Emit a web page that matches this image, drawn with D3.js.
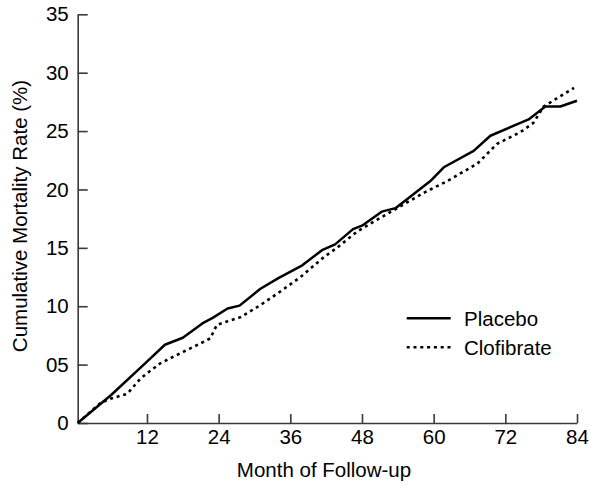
<!DOCTYPE html>
<html>
<head>
<meta charset="utf-8">
<script src="https://cdn.jsdelivr.net/npm/d3@7"></script>
<style>
  html, body { margin: 0; padding: 0; background: #fff; }
  svg text { font-family: "Liberation Sans", Arial, Helvetica, sans-serif; fill: #000; }
</style>
</head>
<body>
<svg id="chart" width="589" height="486"></svg>
<script>
// ---- data ----
const placeboMonths = [0.4, 6, 12, 15, 18, 21.5, 23, 25.5, 27.5, 31, 34, 38, 41.3, 43.5, 46.5, 48, 51.3, 53.6, 59.4, 61.7, 66.7, 69.5, 75.9, 78.7, 81.2, 84];
const placeboRates  = [0, 2.4, 5.25, 6.7, 7.3, 8.6, 9.0, 9.8, 10.05, 11.5, 12.4, 13.5, 14.8, 15.3, 16.6, 16.9, 18.1, 18.4, 20.7, 21.9, 23.3, 24.6, 26.0, 27.1, 27.1, 27.6];
const clofibrateMonths = [0.4, 4.2, 6, 8.7, 10.9, 12, 14.2, 16.5, 18.7, 20.9, 22.6, 23.7, 25.4, 27.6, 31, 34.3, 37.7, 41.6, 43.8, 47.2, 50.5, 53.9, 58.3, 62.2, 67.3, 70.6, 74.5, 76.7, 78.4, 83.5];
const clofibrateRates  = [0, 1.7, 2.1, 2.5, 3.8, 4.25, 5.1, 5.7, 6.25, 6.8, 7.25, 8.4, 8.7, 9.05, 10.1, 11.25, 12.5, 14.2, 15.0, 16.4, 17.4, 18.4, 19.7, 20.7, 22.2, 23.9, 24.9, 25.7, 27.1, 28.7];
const xTickValues = [12, 24, 36, 48, 60, 72, 84];
const yTickValues = [0, 5, 10, 15, 20, 25, 30, 35];
const yTickLabels = ["0", "05", "10", "15", "20", "25", "30", "35"];
const seriesNames = ["Placebo", "Clofibrate"];
const xTitle = "Month of Follow-up";
const yTitle = "Cumulative Mortality Rate (%)";

// ---- layout ----
const svg = d3.select("#chart");
const fs = "20.5px";
const x = d3.scaleLinear().domain([0.4, 84]).range([77.7, 577]);
const y = d3.scaleLinear().domain([0, 35]).range([423, 14.3]);
const axisColor = "#3a3a3a";

// y axis
const yAxis = d3.axisLeft(y)
  .tickValues(yTickValues)
  .tickFormat((d, i) => yTickLabels[i])
  .tickSizeInner(-10).tickSizeOuter(0).tickPadding(9);
const gy = svg.append("g").attr("transform", `translate(${x(0.4)},0)`).call(yAxis);
gy.select(".domain").attr("stroke", axisColor).attr("stroke-width", 1.6);
gy.selectAll(".tick line").attr("stroke", axisColor).attr("stroke-width", 1.6);
gy.selectAll(".tick text").attr("font-size", fs).attr("fill", "#000");

// x axis
const xAxis = d3.axisBottom(x)
  .tickValues(xTickValues)
  .tickSizeInner(-9).tickSizeOuter(0).tickPadding(6);
const gx = svg.append("g").attr("transform", `translate(0,${y(0)})`).call(xAxis);
gx.select(".domain").attr("stroke", axisColor).attr("stroke-width", 1.6);
gx.selectAll(".tick line").attr("stroke", axisColor).attr("stroke-width", 1.6);
gx.selectAll(".tick text").attr("font-size", fs).attr("fill", "#000");

svg.selectAll("g text").attr("font-family", '"Liberation Sans", Arial, sans-serif');

// titles
svg.append("text")
  .attr("x", 324).attr("y", 477)
  .attr("text-anchor", "middle").attr("font-size", fs)
  .text(xTitle);
svg.append("text")
  .attr("transform", "translate(27,216) rotate(-90)")
  .attr("text-anchor", "middle").attr("font-size", fs)
  .text(yTitle);

// lines
const line = d3.line().x(d => x(d[0])).y(d => y(d[1]));
const placeboData = placeboMonths.map((m, i) => [m, placeboRates[i]]);
const clofibrateData = clofibrateMonths.map((m, i) => [m, clofibrateRates[i]]);
const styles = [
  { stroke: "#000", width: 2.5, dash: null },
  { stroke: "#000", width: 2.6, dash: "3,3.8" }
];
[placeboData, clofibrateData].forEach((data, i) => {
  svg.append("path").datum(data)
    .attr("fill", "none")
    .attr("stroke", styles[i].stroke)
    .attr("stroke-width", styles[i].width)
    .attr("stroke-linejoin", "round")
    .attr("stroke-dasharray", styles[i].dash)
    .attr("d", line);
});

// legend
const legendY = [318.3, 347.3];
seriesNames.forEach((name, i) => {
  svg.append("line")
    .attr("x1", 406.7).attr("x2", 450.7)
    .attr("y1", legendY[i]).attr("y2", legendY[i])
    .attr("stroke", styles[i].stroke)
    .attr("stroke-width", styles[i].width)
    .attr("stroke-dasharray", styles[i].dash);
  svg.append("text")
    .attr("x", 464).attr("y", legendY[i])
    .attr("dy", "0.36em").attr("font-size", fs)
    .text(name);
});
</script>
</body>
</html>
